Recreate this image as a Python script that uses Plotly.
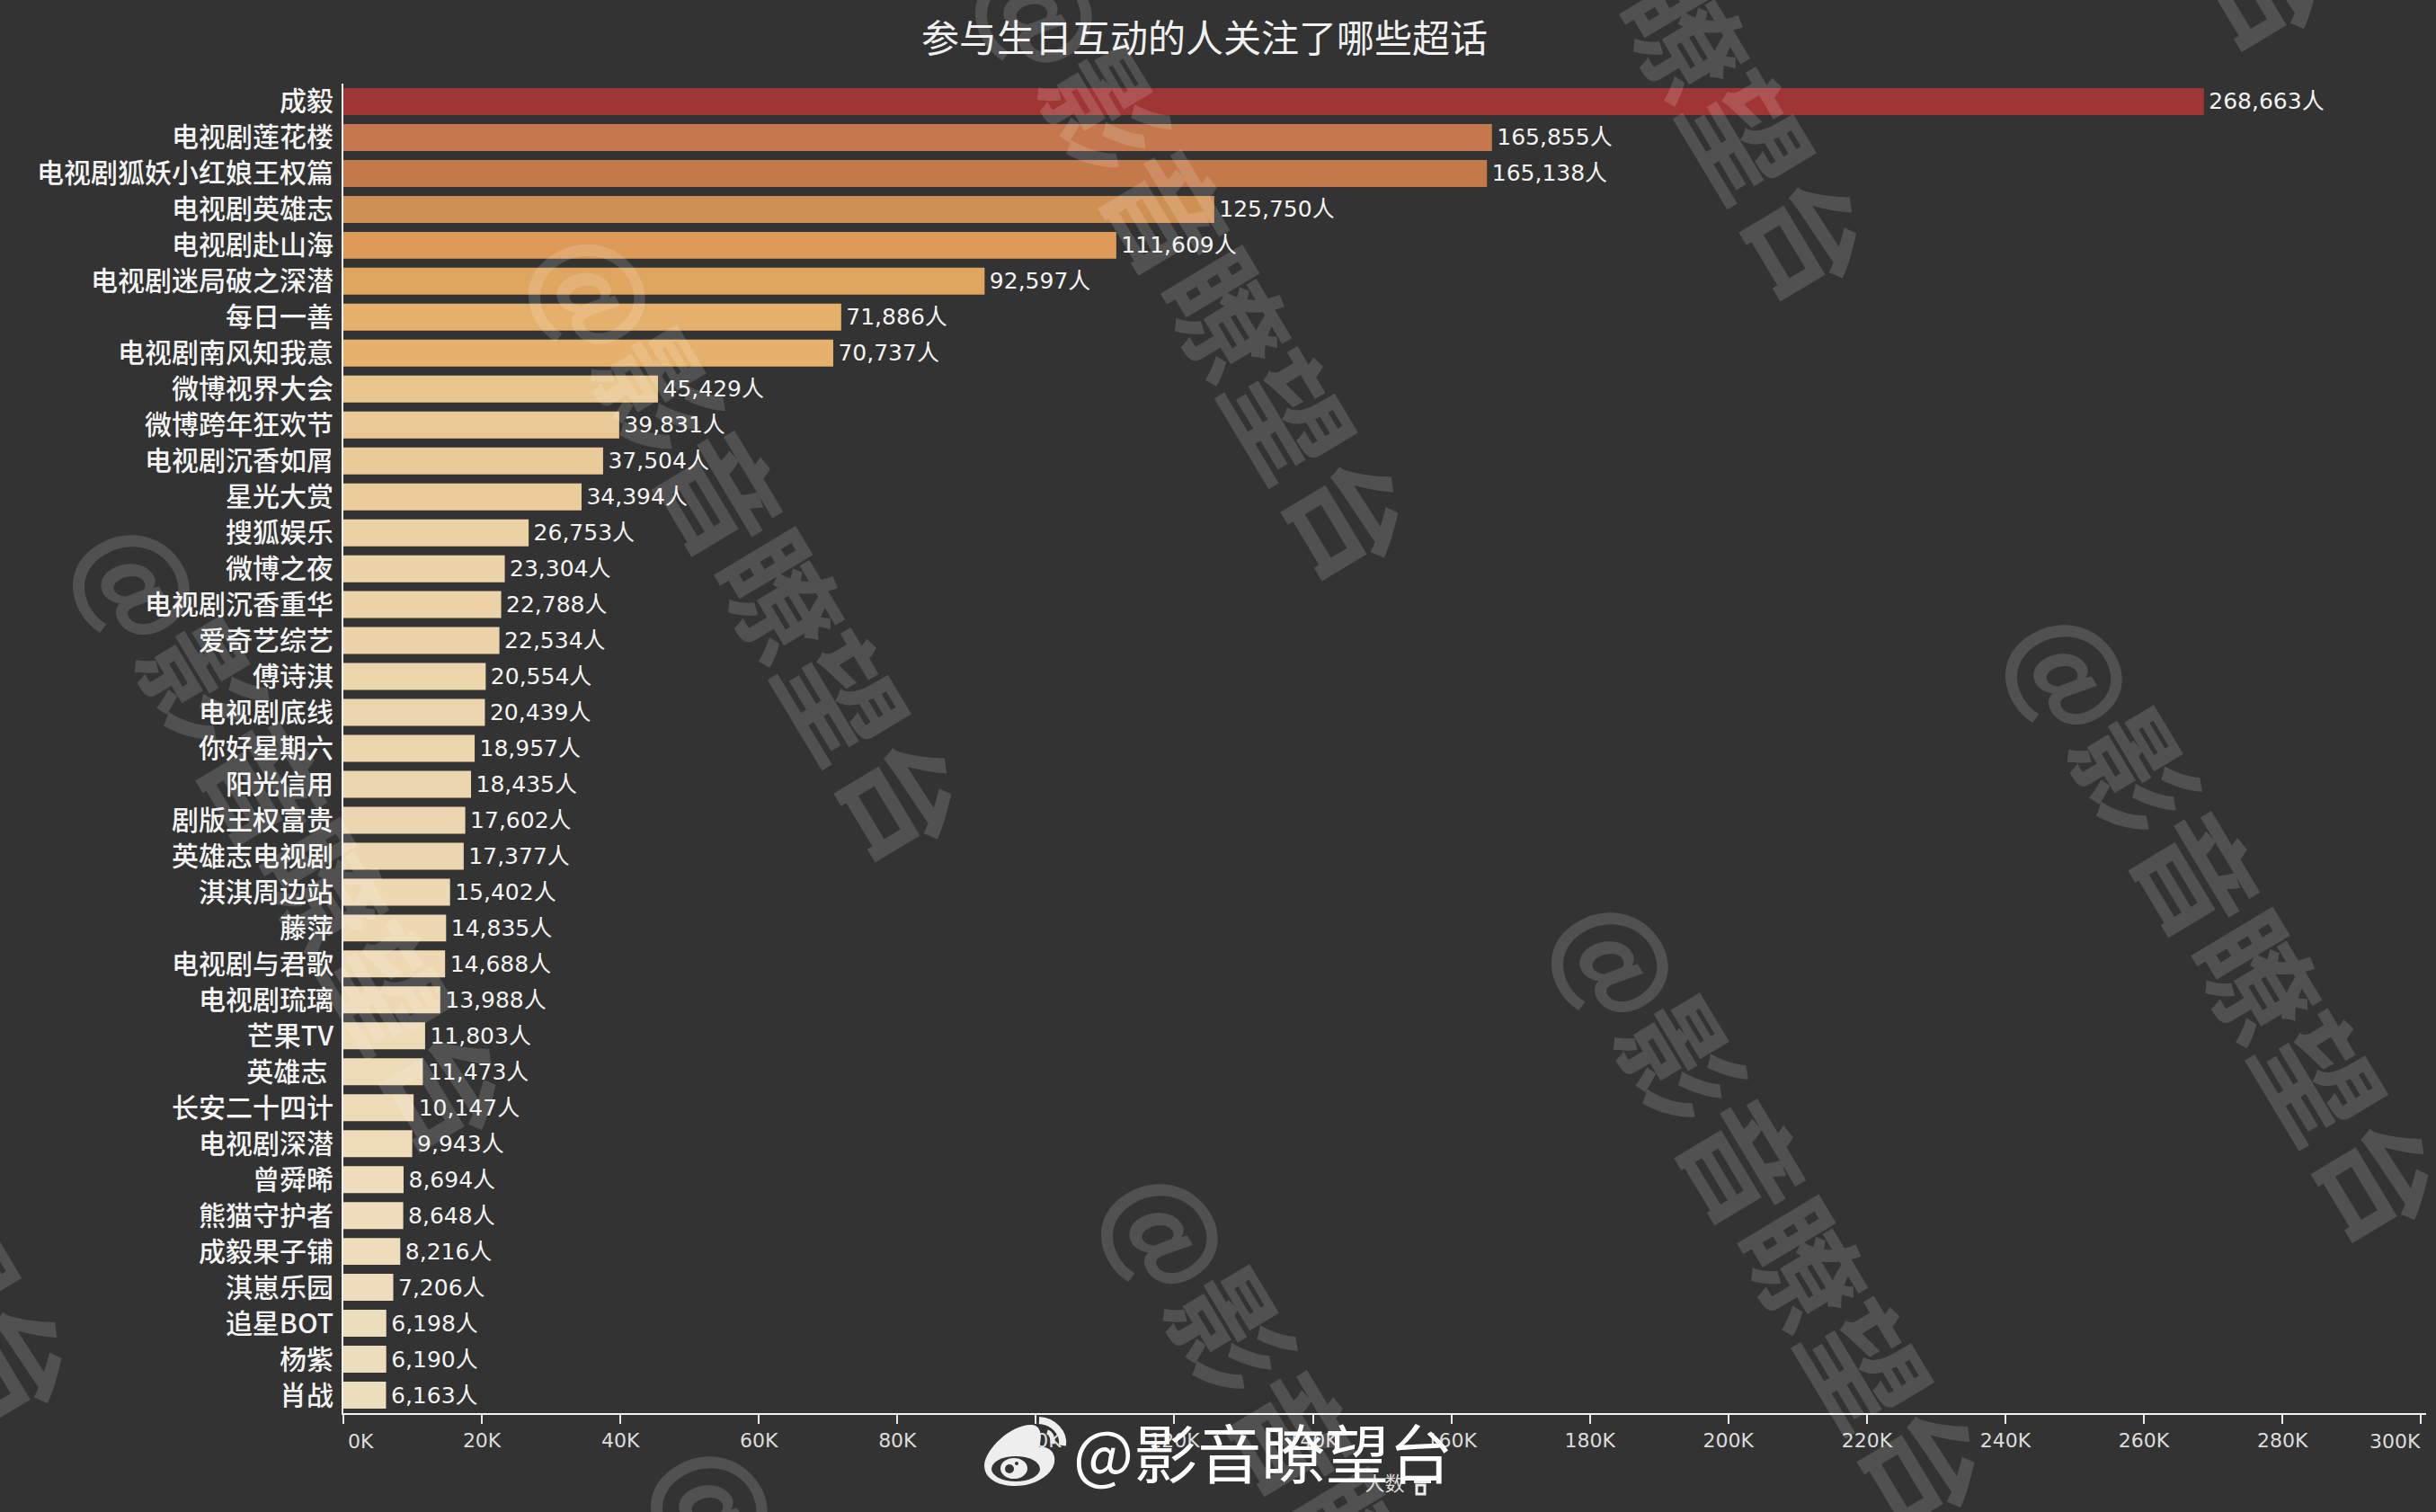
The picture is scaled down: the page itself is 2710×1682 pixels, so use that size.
import plotly.graph_objects as go

# data
topics = ['成毅', '电视剧莲花楼', '电视剧狐妖小红娘王权篇', '电视剧英雄志', '电视剧赴山海', '电视剧迷局破之深潜',
          '每日一善', '电视剧南风知我意', '微博视界大会', '微博跨年狂欢节', '电视剧沉香如屑', '星光大赏',
          '搜狐娱乐', '微博之夜', '电视剧沉香重华', '爱奇艺综艺', '傅诗淇', '电视剧底线',
          '你好星期六', '阳光信用', '剧版王权富贵', '英雄志电视剧', '淇淇周边站', '藤萍',
          '电视剧与君歌', '电视剧琉璃', '芒果TV', '英雄志 ', '长安二十四计', '电视剧深潜',
          '曾舜晞', '熊猫守护者', '成毅果子铺', '淇崽乐园', '追星BOT', '杨紫', '肖战']
people = [268663, 165855, 165138, 125750, 111609, 92597,
          71886, 70737, 45429, 39831, 37504, 34394,
          26753, 23304, 22788, 22534, 20554, 20439,
          18957, 18435, 17602, 17377, 15402, 14835,
          14688, 13988, 11803, 11473, 10147, 9943,
          8694, 8648, 8216, 7206, 6198, 6190, 6163]
tick_vals = list(range(20000, 300000, 20000))
tick_text = [f'{v // 1000}K' for v in tick_vals]
value_labels = [f'\u200a{v:,}人' for v in people]

# colour ramp sampled from the bars
color_ramp = [[0, '#EEDDBD'], [0.15, '#E9C68D'], [0.25, '#E5B06C'], [0.33, '#E0A55E'],
              [0.40, '#DC9A56'], [0.455, '#CF9153'], [0.61, '#C4784B'], [1, '#9F3534']]

W, H = 2710, 1682
LEFT, RIGHT, TOP, BOTTOM = 382, 2699, 93, 1572
FONT = 'Noto Sans CJK SC'
NUM_FONT = 'DejaVu Sans, Noto Sans CJK SC'
BG = '#333333'


def px(x, y):
    return (x - LEFT) / (RIGHT - LEFT), 1 - (y - TOP) / (BOTTOM - TOP)


def path(*parts):
    # parts are svg commands or (x, y) pairs in page pixels
    out = []
    for p in parts:
        if isinstance(p, str):
            out.append(p)
        else:
            a, b = px(*p)
            out.append(f'{a:.5f},{b:.5f}')
    return ' '.join(out)


fig = go.Figure(go.Bar(
    x=people,
    y=topics,
    orientation='h',
    marker=dict(color=people, colorscale=color_ramp, line_width=0, showscale=False),
    text=value_labels,
    textposition='outside',
    textfont=dict(family=NUM_FONT, size=25, color='#f4f4f4'),
    cliponaxis=False,
))

fig.update_layout(
    width=W,
    height=H,
    margin=dict(l=LEFT, r=W - RIGHT, t=TOP, b=H - BOTTOM, autoexpand=False),
    paper_bgcolor=BG,
    plot_bgcolor=BG,
    bargap=0.25,
    showlegend=False,
    font=dict(family=FONT, color='#f0f0f0'),
    title=dict(text='参与生日互动的人关注了哪些超话', font=dict(family=FONT, size=42, color='#f0f0f0'),
               x=1340 / W, xanchor='center', xref='container', y=1 - 43 / H, yanchor='middle', yref='container'),
)
fig.update_yaxes(
    autorange=False, range=[36.5, -0.5], type='category', categoryorder='array', categoryarray=topics,
    showline=True, linecolor='#f2f2f2', linewidth=2, showgrid=False, zeroline=False,
    ticks='', ticklabelstandoff=3,
    tickfont=dict(family=FONT, size=30, color='#f4f4f4', weight=500),
)
fig.update_xaxes(
    range=[0, 300750], tickmode='array', tickvals=[0] + tick_vals + [300000],
    ticktext=[''] + tick_text + [''],
    showline=True, linecolor='#f2f2f2', linewidth=2, showgrid=False, zeroline=False,
    ticks='outside', ticklen=10, tickwidth=2, tickcolor='#e8e8e8',
    tickfont=dict(family='DejaVu Sans', size=22, color='#dddddd'),
    title=dict(text='人数', font=dict(family=FONT, size=22, color='#dddddd'), standoff=28),
)

# first and last tick label sit inside the tick, like in the original
fig.add_annotation(x=0, y=0, xref='x', yref='paper', text='0K', showarrow=False, xanchor='left',
                   yanchor='top', xshift=3, yshift=-17, font=dict(family='DejaVu Sans', size=22, color='#dddddd'))
fig.add_annotation(x=300000, y=0, xref='x', yref='paper', text='300K', showarrow=False, xanchor='right',
                   yanchor='top', xshift=2, yshift=-17, font=dict(family='DejaVu Sans', size=22, color='#dddddd'))

# watermarks
mark_centers = [(-150, 1229), (333, 925), (839, 602), (1336, 289), (1846, -22), (2360, -300),
                (976, 1950), (1477, 1647), (1978, 1345), (2483, 1025)]
for cx, cy in mark_centers:
    ax, ay = px(cx, cy)
    fig.add_annotation(x=ax, y=ay, xref='paper', yref='paper', text='@影音瞭望台', showarrow=False,
                       xanchor='center', yanchor='middle', textangle=59,
                       font=dict(family=FONT, size=132, color='rgba(255,255,255,0.15)', weight=700))

# weibo logo and account name at the bottom
ax, ay = px(1192, 1613)
fig.add_annotation(x=ax, y=ay, xref='paper', yref='paper', text='@影音瞭望台', showarrow=False,
                   xanchor='left', yanchor='middle', font=dict(family=FONT, size=71, color='#ffffff'))

logo = '#eeeeee'
fig.add_shape(type='path', xref='paper', yref='paper', fillcolor=logo, line_width=0, path=path(
    'M', (1095, 1630), 'C', (1096, 1612), (1125, 1584), (1148, 1585), 'C', (1158, 1586), (1160, 1597), (1156, 1610),
    'C', (1166, 1608), (1175, 1615), (1173, 1627), 'C', (1170, 1642), (1150, 1653), (1130, 1653),
    'C', (1110, 1653), (1095, 1645), (1095, 1630), 'Z'))
shape_circles = [((1103, 1620), (1157, 1648), '#333333'), ((1113, 1622), (1143, 1645), logo),
                 ((1118, 1629), (1128, 1639), '#333333'), ((1129, 1626), (1133, 1630), '#333333')]
for (x0, y0), (x1, y1), col in shape_circles:
    a0, b0 = px(x0, y0)
    a1, b1 = px(x1, y1)
    fig.add_shape(type='circle', xref='paper', yref='paper', x0=a0, y0=b0, x1=a1, y1=b1, fillcolor=col, line_width=0)
fig.add_shape(type='path', xref='paper', yref='paper', line=dict(color=logo, width=8), path=path(
    'M', (1156, 1580), 'C', (1172, 1581), (1184, 1594), (1182, 1608)))
fig.add_shape(type='path', xref='paper', yref='paper', line=dict(color=logo, width=5), path=path(
    'M', (1165, 1593), 'C', (1169, 1594), (1172, 1600), (1171, 1606)))

# little sort icon next to the axis title
a0, b0 = px(1573, 1647)
a1, b1 = px(1592, 1650)
fig.add_shape(type='rect', xref='paper', yref='paper', x0=a0, y0=b0, x1=a1, y1=b1, fillcolor='#eeeeee', line_width=0)
a0, b0 = px(1576, 1652)
a1, b1 = px(1585, 1662)
fig.add_shape(type='rect', xref='paper', yref='paper', x0=a0, y0=b0, x1=a1, y1=b1, line=dict(color='#eeeeee', width=3))

fig.write_html('out.html', config={'displayModeBar': False}, post_script="document.body.style.margin='0';")
